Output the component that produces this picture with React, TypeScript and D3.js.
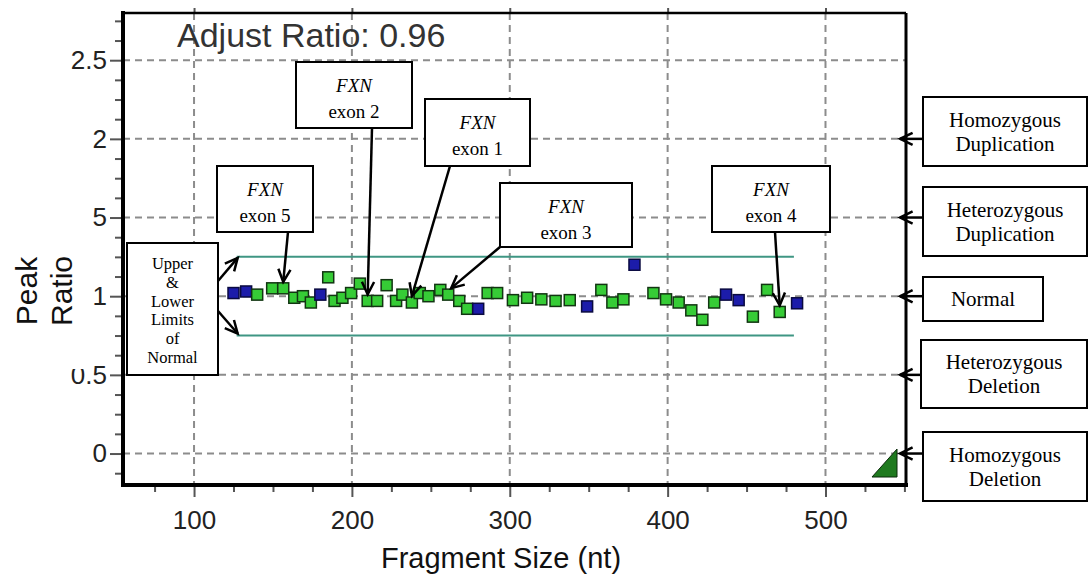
import React, { useRef, useEffect } from 'react';
import * as d3 from 'd3';

// probe fragment sizes (nt), peak ratios and probe kind (ref = blue, test = green)
const fragmentSizes = [125, 133, 140, 149.5, 156.5, 163.5, 169, 174, 180, 185, 189, 194, 199.5, 205, 210, 216, 222, 228, 232, 238, 243, 248.5, 256, 261, 268, 273, 280, 286, 292, 302, 311, 320, 329, 338, 349, 358, 365, 372, 379, 391, 399, 407, 415, 422, 429.5, 437, 445, 454, 463, 471, 482];
const peakRatios = [1.02, 1.03, 1.01, 1.05, 1.05, 0.99, 1.0, 0.96, 1.01, 1.12, 0.97, 0.99, 1.02, 1.08, 0.97, 0.97, 1.07, 0.97, 1.01, 0.96, 1.02, 1.0, 1.04, 1.01, 0.97, 0.92, 0.92, 1.02, 1.02, 0.975, 0.99, 0.98, 0.97, 0.975, 0.935, 1.04, 0.96, 0.98, 1.2, 1.02, 0.98, 0.96, 0.91, 0.85, 0.96, 1.01, 0.975, 0.87, 1.04, 0.9, 0.955];
const probeKinds = ['ref', 'ref', 'test', 'test', 'test', 'test', 'test', 'test', 'ref', 'test', 'test', 'test', 'test', 'test', 'test', 'test', 'test', 'test', 'test', 'test', 'test', 'test', 'test', 'test', 'test', 'test', 'ref', 'test', 'test', 'test', 'test', 'test', 'test', 'test', 'ref', 'test', 'test', 'test', 'ref', 'test', 'test', 'test', 'test', 'test', 'test', 'ref', 'ref', 'test', 'test', 'test', 'ref'];

const xTicks = [100, 200, 300, 400, 500];
const yTicks = [0, 0.5, 1, 1.5, 2, 2.5];
const limitRatios = [1.25, 0.75];
const limitRange = [127, 480];
const adjustRatio = 0.96;

// exon annotations: which probe each arrow points to
const exonNames = ['exon 5', 'exon 2', 'exon 1', 'exon 3', 'exon 4'];
const exonProbe = [4, 14, 19, 23, 49];

// copy-number states on the right
const stateLabels = [['Homozygous', 'Duplication'], ['Heterozygous', 'Duplication'], ['Normal'], ['Heterozygous', 'Deletion'], ['Homozygous', 'Deletion']];
const stateRatios = [2, 1.5, 1, 0.5, 0];

const W = 1088, H = 575;
const plot = { left: 123, right: 906, top: 13, bottom: 485 };

// box layout: [x, y, w, h] and where the arrow leaves the box
const exonBoxes = [[217, 166, 96, 66], [296, 62, 116, 66], [425, 99, 105, 67], [500, 183, 132, 64], [712, 166, 118, 66]];
const exonArrowStart = [[288, 232], [372, 128], [450, 166], [500, 247], [775, 232]];
const stateBoxes = [[923, 97, 164, 69], [923, 187, 164, 69], [923, 277, 120, 44], [921, 340, 166, 68], [923, 432, 164, 69]];

const serif = '"Liberation Serif", "Times New Roman", serif';
const sans = '"Liberation Sans", Arial, sans-serif';

function arrow(g, x1, y1, x2, y2) {
  g.append('line').attr('x1', x1).attr('y1', y1).attr('x2', x2).attr('y2', y2);
  const a = Math.atan2(y1 - y2, x1 - x2);
  const len = 14, spread = 0.45;
  g.append('path').attr('fill', 'none').attr('d',
    `M${x2 + len * Math.cos(a - spread)},${y2 + len * Math.sin(a - spread)}L${x2},${y2}L${x2 + len * Math.cos(a + spread)},${y2 + len * Math.sin(a + spread)}`);
}

export default function App() {
  const svgRef = useRef(null);

  useEffect(() => {
    const svg = d3.select(svgRef.current);
    svg.selectAll('*').remove();

    const x = d3.scaleLinear().domain([55, 551]).range([plot.left, plot.right]);
    const y = d3.scaleLinear().domain([-0.2, 2.8]).range([plot.bottom, plot.top]);

    svg.append('rect').attr('width', W).attr('height', H).attr('fill', '#fff');

    // grid
    const grid = svg.append('g').attr('stroke', '#8c8c8c').attr('stroke-width', 2).attr('stroke-dasharray', '7 5');
    grid.append('g').selectAll('line').data(xTicks).join('line')
      .attr('x1', d => x(d)).attr('x2', d => x(d)).attr('y1', plot.top).attr('y2', plot.bottom);
    grid.append('g').selectAll('line').data(yTicks).join('line')
      .attr('x1', plot.left).attr('x2', plot.right).attr('y1', d => y(d)).attr('y2', d => y(d));

    // axes
    const minorY = d3.range(-0.125, 2.8, 0.125).filter(v => !yTicks.includes(v));
    const minorX = d3.range(75, 551, 25).filter(v => !xTicks.includes(v));
    const left = svg.append('g').attr('transform', `translate(${plot.left},0)`);
    left.call(d3.axisLeft(y).tickValues(yTicks).tickSize(13).tickPadding(3).tickSizeOuter(0).tickFormat(d3.format('')));
    left.append('g').call(d3.axisLeft(y).tickValues(minorY).tickSize(8).tickFormat(() => ''));
    const bottom = svg.append('g').attr('transform', `translate(0,${plot.bottom})`);
    bottom.call(d3.axisBottom(x).tickValues(xTicks).tickSize(12).tickPadding(14).tickSizeOuter(0));
    bottom.append('g').call(d3.axisBottom(x).tickValues(minorX).tickSize(7).tickFormat(() => ''));
    svg.append('g').attr('transform', `translate(0,${plot.top})`)
      .call(d3.axisTop(x).tickValues(xTicks).tickSize(5).tickFormat(() => ''));
    svg.selectAll('.domain').remove();
    svg.selectAll('.tick line').attr('stroke', '#555').attr('stroke-width', 2);
    svg.selectAll('.tick text').attr('font-family', sans).attr('font-size', 26).attr('fill', '#222');

    // frame
    const frame = svg.append('g').attr('stroke', '#000');
    frame.append('line').attr('x1', plot.left).attr('x2', plot.right).attr('y1', plot.top).attr('y2', plot.top).attr('stroke-width', 2.5);
    frame.append('line').attr('x1', plot.right).attr('x2', plot.right).attr('y1', plot.top).attr('y2', plot.bottom).attr('stroke-width', 3);
    frame.append('line').attr('x1', plot.left).attr('x2', plot.left).attr('y1', plot.top - 2).attr('y2', plot.bottom + 2).attr('stroke-width', 4);
    frame.append('line').attr('x1', plot.left - 2).attr('x2', plot.right + 2).attr('y1', plot.bottom).attr('y2', plot.bottom).attr('stroke-width', 4);

    svg.append('text').attr('x', 177).attr('y', 47).attr('font-family', sans).attr('font-size', 34)
      .attr('fill', '#333').text(`Adjust Ratio: ${adjustRatio}`);

    // limits of normal
    svg.append('g').selectAll('line').data(limitRatios).join('line')
      .attr('x1', x(limitRange[0])).attr('x2', x(limitRange[1]))
      .attr('y1', d => y(d)).attr('y2', d => y(d))
      .attr('stroke', '#3f9683').attr('stroke-width', 2);

    // probes
    const s = 11;
    svg.append('g').selectAll('rect').data(fragmentSizes).join('rect')
      .attr('x', d => x(d) - s / 2).attr('y', (d, i) => y(peakRatios[i]) - s / 2)
      .attr('width', s).attr('height', s)
      .attr('fill', (d, i) => probeKinds[i] === 'ref' ? '#1c1caa' : '#36cc36')
      .attr('stroke', (d, i) => probeKinds[i] === 'ref' ? '#0a0a40' : '#123512')
      .attr('stroke-width', 1.5);

    // corner grip
    svg.append('path').attr('d', 'M872,477L897,477L897,449Z').attr('fill', '#1f7a1f').attr('stroke', '#0b2a0b');

    // y label box (covers the left part of some tick labels)
    svg.append('rect').attr('x', 0).attr('y', 200).attr('width', 93).attr('height', 169).attr('fill', '#fff');
    const yl = svg.append('g').attr('font-family', sans).attr('font-size', 30).attr('fill', '#111').attr('text-anchor', 'middle');
    yl.append('text').attr('transform', 'translate(37,291) rotate(-90)').text('Peak');
    yl.append('text').attr('transform', 'translate(72,291) rotate(-90)').text('Ratio');

    svg.append('text').attr('x', 501).attr('y', 568).attr('text-anchor', 'middle')
      .attr('font-family', sans).attr('font-size', 29).attr('fill', '#111').text('Fragment Size (nt)');

    const ann = svg.append('g');
    const arrows = svg.append('g').attr('stroke', '#000').attr('stroke-width', 2.5);

    // left limits box
    const lb = [127, 243, 91, 132];
    ann.append('rect').attr('x', lb[0]).attr('y', lb[1]).attr('width', lb[2]).attr('height', lb[3])
      .attr('fill', '#fff').attr('stroke', '#000').attr('stroke-width', 2);
    const limitWords = ['Upper', '&', 'Lower', 'Limits', 'of', 'Normal'];
    ann.append('g').attr('font-family', serif).attr('font-size', 16.5).attr('text-anchor', 'middle')
      .selectAll('text').data(limitWords).join('text')
      .attr('x', lb[0] + lb[2] / 2).attr('y', (d, i) => 269 + i * 18.8).text(d => d);
    arrow(arrows, lb[0] + lb[2], 281, x(limitRange[0]) + 1, y(limitRatios[0]) + 1);
    arrow(arrows, lb[0] + lb[2], 311, x(limitRange[0]) + 1, y(limitRatios[1]) - 2);

    // exon boxes
    exonNames.forEach((name, i) => {
      const [bx, by, bw, bh] = exonBoxes[i];
      ann.append('rect').attr('x', bx).attr('y', by).attr('width', bw).attr('height', bh)
        .attr('fill', '#fff').attr('stroke', '#000').attr('stroke-width', 2);
      ann.append('text').attr('x', bx + bw / 2).attr('y', by + 30).attr('text-anchor', 'middle')
        .attr('font-family', serif).attr('font-size', 19).attr('font-style', 'italic').text('FXN');
      ann.append('text').attr('x', bx + bw / 2).attr('y', by + 56).attr('text-anchor', 'middle')
        .attr('font-family', serif).attr('font-size', 19).text(name);
      const p = exonProbe[i];
      const [sx, sy] = exonArrowStart[i];
      const tx = x(fragmentSizes[p]) + (i === 3 ? 3 : 0);
      arrow(arrows, sx, sy, tx, y(peakRatios[p]) - s / 2 - 1);
    });

    // copy-number state boxes
    stateLabels.forEach((lines, i) => {
      const [bx, by, bw, bh] = stateBoxes[i];
      ann.append('rect').attr('x', bx).attr('y', by).attr('width', bw).attr('height', bh)
        .attr('fill', '#fff').attr('stroke', '#000').attr('stroke-width', 2);
      const cy = by + bh / 2;
      lines.forEach((t, j) => {
        ann.append('text').attr('x', bx + bw / 2).attr('y', cy + 7 + (j - (lines.length - 1) / 2) * 24)
          .attr('text-anchor', 'middle').attr('font-family', serif).attr('font-size', 21).text(t);
      });
      arrow(arrows, bx, y(stateRatios[i]), plot.right - 6, y(stateRatios[i]));
    });
  }, []);

  return (
    <svg ref={svgRef} width={W} height={H}
      style={{ position: 'absolute', left: 0, top: 0, display: 'block' }} />
  );
}
